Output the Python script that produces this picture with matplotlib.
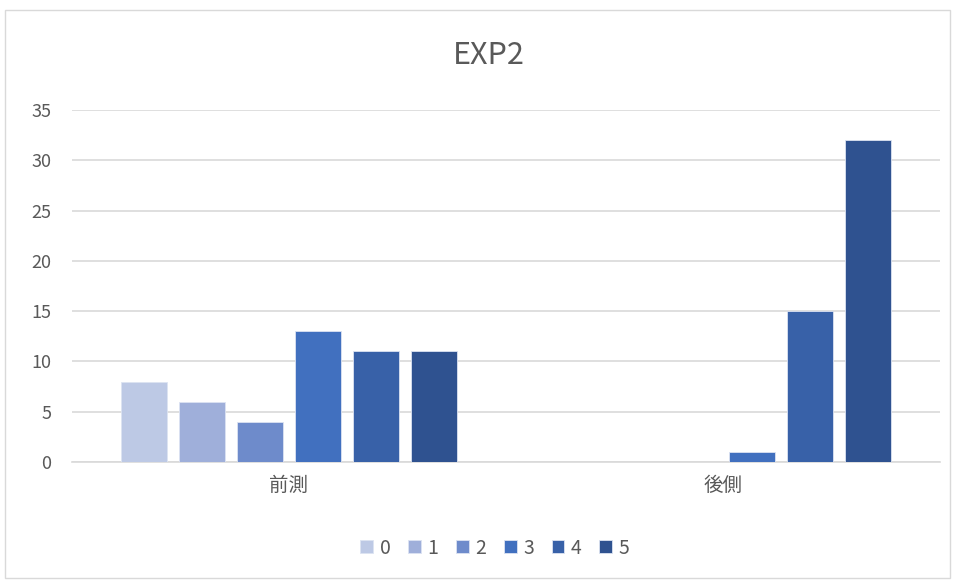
import matplotlib
matplotlib.use('agg')
import matplotlib.pyplot as plt
import numpy as np
from matplotlib.patches import Rectangle

plt.rcParams['font.family'] = ['Noto Sans CJK JP', 'DejaVu Sans']

categories = ['前測', '後側']
series_names = ['0', '1', '2', '3', '4', '5']
values = [
  [8, 0],
  [6, 0],
  [4, 0],
  [13, 1],
  [11, 15],
  [11, 32],
]
colors = ['#BDC9E5', '#9FAFDA', '#6E8BCB', '#4170BF', '#3861A8', '#2F5290']

fig = plt.figure(figsize=(9.59, 5.81), dpi=100)
ax = fig.add_axes([72/959, 1 - 462/581, 868/959, 352/581])

# chart area border
fig.patches.append(Rectangle((5/959, 3/581), 945/959, 568/581, transform=fig.transFigure,
                             fill=False, edgecolor='#D9D9D9', linewidth=1))

x = np.arange(len(categories))
step = 0.1336
width = 0.106
for i, name in enumerate(series_names):
  off = (i - 2.5) * step
  ax.bar(x + off, values[i], width, color=colors[i], edgecolor='#DCE3F2', linewidth=0.6,
         label=name, zorder=3)

ax.set_xlim(-0.5, 1.5)
ax.set_ylim(0, 35)
ax.set_yticks(range(0, 36, 5))
ax.set_xticks(x)
ax.set_xticklabels(categories, fontsize=14, color='#595959')
ax.tick_params(axis='y', labelsize=13, labelcolor='#595959', length=0, pad=15)
ax.tick_params(axis='x', length=0, pad=9)
ax.grid(axis='y', color='#D9D9D9', linewidth=1.2, zorder=0)
for s in ['top', 'right', 'left']:
  ax.spines[s].set_visible(False)
ax.spines['bottom'].set_color('#D9D9D9')
ax.spines['bottom'].set_linewidth(1.2)

fig.text(489/959, 1 - 55/581, 'EXP2', ha='center', va='center', fontsize=22, color='#595959')

leg = fig.legend(loc='center', bbox_to_anchor=(495/959, 1 - 548/581), ncol=6, frameon=False,
                 fontsize=14, handlelength=0.65, handleheight=0.65, handletextpad=0.35,
                 columnspacing=0.9, labelcolor='#595959')

plt.savefig('out.png', dpi=100)
plt.close()
